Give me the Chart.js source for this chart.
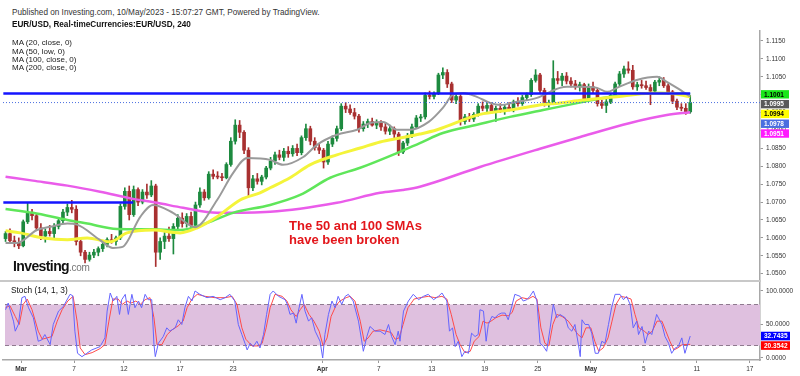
<!DOCTYPE html>
<html>
<head>
<meta charset="utf-8">
<title>EUR/USD 240</title>
<script src="https://cdn.jsdelivr.net/npm/chart.js@4.4.1/dist/chart.umd.min.js"></script>
<style>
  body { margin: 0; background: #fff; font-family: "Liberation Sans", Arial, sans-serif; }
  #wrap { position: relative; width: 800px; height: 376px; overflow: hidden; }
  canvas { position: absolute; left: 0; }
  #price { top: 30px; }
  #stoch { top: 282px; }
  .txt { position: absolute; white-space: nowrap; line-height: 1; }
  #sep { position: absolute; left: 0; top: 280px; width: 761px; height: 2px; background: #c8c8c8; }
</style>
</head>
<body>
<div id="wrap">
  <canvas id="price" width="800" height="251"></canvas>
  <canvas id="stoch" width="800" height="94"></canvas>
  <div id="sep"></div>

  <div class="txt" style="left:12px;top:9px;font-size:8.2px;color:#333">Published on Investing.com, 10/May/2023 - 15:07:27 GMT, Powered by TradingView.</div>
  <div class="txt" style="left:12px;top:21px;font-size:8.2px;font-weight:bold;color:#111">EUR/USD, Real-timeCurrencies:EUR/USD, 240</div>
  <div class="txt" style="left:12px;top:39px;font-size:8px;color:#222">MA (20, close, 0)</div>
  <div class="txt" style="left:12px;top:47.5px;font-size:8px;color:#222">MA (50, low, 0)</div>
  <div class="txt" style="left:12px;top:56px;font-size:8px;color:#222">MA (100, close, 0)</div>
  <div class="txt" style="left:12px;top:64px;font-size:8px;color:#222">MA (200, close, 0)</div>

  <div class="txt" style="left:289px;top:219px;font-size:13px;font-weight:bold;color:#e3161b">The 50 and 100 SMAs</div>
  <div class="txt" style="left:289px;top:233px;font-size:13px;font-weight:bold;color:#e3161b">have been broken</div>

  <div class="txt" style="left:13px;top:259px;font-size:14px;font-weight:bold;letter-spacing:-0.6px;color:#111">Investing<span style="font-size:10px;font-weight:normal;color:#777;letter-spacing:-0.3px">.com</span></div>

  <div class="txt" style="left:11px;top:286px;font-size:8.3px;color:#111">Stoch (14, 1, 3)</div>
</div>

<script>
// EUR/USD, kept as 8h candles (3 per trading day)
// index 0 = last session of Feb 27, index 155 = May 10 midday
const open = [
  1.0598,1.0612,1.0592,1.0585,1.0578,1.0645,1.0670,1.0662,1.0628,1.0605,
  1.0618,1.0612,1.0632,1.0648,1.0672,1.0685,1.0680,1.0590,1.0560,1.0540,
  1.0552,1.0560,1.0570,1.0582,1.0595,1.0590,1.0600,1.0688,1.0730,1.0665,
  1.0735,1.0700,1.0728,1.0720,1.0745,1.0560,1.0590,1.0605,1.0598,1.0632,
  1.0655,1.0640,1.0660,1.0635,1.0692,1.0728,1.0712,1.0778,1.0772,1.0770,
  1.0768,1.0805,1.0870,1.0915,1.0895,1.0845,1.0740,1.0765,1.0758,1.0770,
  1.0795,1.0815,1.0832,1.0825,1.0842,1.0835,1.0850,1.0838,1.0880,1.0905,
  1.0870,1.0852,1.0845,1.0812,1.0862,1.0878,1.0905,1.0968,1.0960,1.0950,
  1.0940,1.0905,1.0918,1.0925,1.0915,1.0922,1.0910,1.0898,1.0905,1.0890,
  1.0840,1.0865,1.0885,1.0910,1.0935,1.0938,1.0998,1.0995,1.1003,1.1055,
  1.1062,1.1030,1.0985,1.0995,1.0925,1.0938,1.0932,1.0945,1.0968,1.0962,
  1.0970,1.0955,1.0962,1.0958,1.0965,1.0960,1.0980,1.0975,1.0992,1.1000,
  1.1040,1.1055,1.1012,1.0975,1.0978,1.1045,1.1040,1.1052,1.1038,1.1030,
  1.1022,1.1028,1.0988,1.1022,1.1012,1.0975,1.0970,1.0980,1.0998,1.1030,
  1.1058,1.1072,1.1068,1.1022,1.1028,1.1025,1.1020,1.1010,1.1035,1.1040,
  1.1025,1.1008,1.0982,1.0965,1.0962,1.0952
];
const high = [
  1.0618,1.0625,1.0605,1.0600,1.0650,1.0697,1.0680,1.0668,1.0640,1.0625,
  1.0635,1.0640,1.0655,1.0680,1.0695,1.0705,1.0690,1.0598,1.0565,1.0560,
  1.0568,1.0575,1.0590,1.0600,1.0610,1.0605,1.0695,1.0740,1.0745,1.0745,
  1.0740,1.0735,1.0750,1.0760,1.0750,1.0600,1.0615,1.0630,1.0640,1.0665,
  1.0670,1.0668,1.0672,1.0700,1.0740,1.0735,1.0785,1.0790,1.0785,1.0780,
  1.0810,1.0880,1.0930,1.0928,1.0900,1.0852,1.0775,1.0780,1.0775,1.0800,
  1.0825,1.0840,1.0845,1.0850,1.0855,1.0858,1.0862,1.0885,1.0918,1.0912,
  1.0880,1.0862,1.0850,1.0870,1.0885,1.0912,1.0975,1.0978,1.0972,1.0962,
  1.0945,1.0925,1.0932,1.0935,1.0930,1.0928,1.0920,1.0915,1.0910,1.0895,
  1.0870,1.0892,1.0918,1.0942,1.0945,1.1005,1.1010,1.1008,1.1060,1.1075,
  1.1070,1.1035,1.1002,1.1000,1.0945,1.0948,1.0950,1.0975,1.0980,1.0978,
  1.0978,1.0968,1.0975,1.0972,1.0978,1.0985,1.0992,1.0998,1.1005,1.1045,
  1.1070,1.1060,1.1018,1.0985,1.1095,1.1065,1.1060,1.1062,1.1048,1.1040,
  1.1035,1.1032,1.1030,1.1035,1.1018,1.0985,1.0988,1.1002,1.1035,1.1065,
  1.1080,1.1092,1.1082,1.1035,1.1040,1.1038,1.1028,1.1040,1.1050,1.1048,
  1.1030,1.1012,1.0988,1.0975,1.0975,1.0998
];
const low = [
  1.0590,1.0585,1.0575,1.0570,1.0575,1.0640,1.0650,1.0620,1.0595,1.0588,
  1.0605,1.0600,1.0625,1.0640,1.0662,1.0670,1.0580,1.0550,1.0530,1.0535,
  1.0545,1.0550,1.0562,1.0575,1.0585,1.0580,1.0595,1.0680,1.0650,1.0660,
  1.0690,1.0695,1.0710,1.0715,1.0520,1.0540,1.0570,1.0590,1.0555,1.0620,
  1.0630,1.0630,1.0625,1.0630,1.0685,1.0705,1.0708,1.0765,1.0765,1.0760,
  1.0765,1.0800,1.0862,1.0880,1.0835,1.0715,1.0732,1.0750,1.0748,1.0765,
  1.0790,1.0805,1.0818,1.0815,1.0825,1.0828,1.0830,1.0832,1.0872,1.0860,
  1.0845,1.0835,1.0795,1.0805,1.0855,1.0870,1.0900,1.0950,1.0945,1.0932,
  1.0895,1.0898,1.0908,1.0912,1.0905,1.0900,1.0890,1.0888,1.0880,1.0830,
  1.0835,1.0858,1.0880,1.0905,1.0925,1.0932,1.0988,1.0988,1.1000,1.1045,
  1.1020,1.0978,1.0975,1.0915,1.0918,1.0925,1.0925,1.0940,1.0955,1.0950,
  1.0948,1.0925,1.0950,1.0945,1.0955,1.0952,1.0968,1.0970,1.0985,1.0995,
  1.1035,1.1005,1.0968,1.0965,1.0972,1.1030,1.1025,1.1030,1.1022,1.1015,
  1.1010,1.0978,1.0985,1.1005,1.0968,1.0962,1.0950,1.0975,1.0992,1.1025,
  1.1048,1.1060,1.1015,1.1012,1.1018,1.1015,1.0972,1.1005,1.1025,1.1020,
  1.1000,1.0975,1.0958,1.0955,1.0945,1.0948
];
const close = [
  1.0612,1.0592,1.0585,1.0578,1.0645,1.0670,1.0662,1.0628,1.0605,1.0618,
  1.0612,1.0632,1.0648,1.0672,1.0685,1.0680,1.0590,1.0560,1.0540,1.0552,
  1.0560,1.0570,1.0582,1.0595,1.0590,1.0600,1.0688,1.0730,1.0665,1.0735,
  1.0700,1.0728,1.0720,1.0745,1.0560,1.0590,1.0605,1.0598,1.0632,1.0655,
  1.0640,1.0660,1.0635,1.0692,1.0728,1.0712,1.0778,1.0772,1.0770,1.0768,
  1.0805,1.0870,1.0915,1.0895,1.0845,1.0740,1.0765,1.0758,1.0770,1.0795,
  1.0815,1.0832,1.0825,1.0842,1.0835,1.0850,1.0838,1.0880,1.0905,1.0870,
  1.0852,1.0845,1.0812,1.0862,1.0878,1.0905,1.0968,1.0960,1.0950,1.0940,
  1.0905,1.0918,1.0925,1.0915,1.0922,1.0910,1.0898,1.0905,1.0890,1.0840,
  1.0865,1.0885,1.0910,1.0935,1.0938,1.0998,1.0995,1.1003,1.1055,1.1062,
  1.1030,1.0985,1.0995,1.0925,1.0938,1.0932,1.0945,1.0968,1.0962,1.0970,
  1.0955,1.0962,1.0958,1.0965,1.0960,1.0980,1.0975,1.0992,1.1000,1.1040,
  1.1055,1.1012,1.0975,1.0978,1.1045,1.1040,1.1052,1.1038,1.1030,1.1022,
  1.1028,1.0988,1.1022,1.1012,1.0975,1.0970,1.0980,1.0998,1.1030,1.1058,
  1.1072,1.1068,1.1022,1.1028,1.1025,1.1020,1.1010,1.1035,1.1040,1.1025,
  1.1008,1.0982,1.0965,1.0962,1.0952,1.0978
];

// moving averages as [candle index, price]
const ma20 = [
  [0,1.0586],[2.6,1.0586],[7.1,1.0622],[10.1,1.0631],[14,1.0640],[16.2,1.0637],[21.4,1.0594],[24.3,1.0572],
  [26.5,1.0575],[30.5,1.0659],[33.4,1.0692],[37.9,1.0670],[42.9,1.0630],[47.9,1.0706],[51.5,1.0781],[54.7,1.0823],
  [59.9,1.0818],[62.8,1.0804],[67.4,1.0826],[70.5,1.0860],[75,1.0888],[79.6,1.0902],[82.5,1.0921],[85.5,1.0924],
  [88.6,1.0902],[91.6,1.0902],[95.8,1.0924],[99,1.0963],[101.3,1.1000],[103.6,1.1005],[106.7,1.0994],[109.7,1.0977],
  [112,1.0971],[115.8,1.0980],[120.3,1.0991],[123.3,1.1008],[125.5,1.1019],[127.1,1.1022],[130.1,1.1022],[133.9,1.1019],
  [136.2,1.1008],[138.4,1.1019],[142.9,1.1041],[147.5,1.1050],[149.7,1.1036],[152,1.1019],[155,1.0995]
];
const ma50 = [
  [0,1.0620],[3.3,1.0614],[8.5,1.0600],[14,1.0595],[18.5,1.0600],[23.7,1.0589],[27.5,1.0614],[33.4,1.0622],
  [39.5,1.0614],[43.4,1.0628],[47.9,1.0659],[53.1,1.0706],[57.6,1.0726],[59.9,1.0740],[64.4,1.0768],[68.9,1.0804],
  [75,1.0832],[80.3,1.0851],[84.8,1.0868],[89.3,1.0879],[93.8,1.0890],[97.7,1.0902],[107.4,1.0945],[114.2,1.0957],
  [120.3,1.0970],[125.5,1.0977],[130.8,1.0985],[138.4,1.0994],[145.9,1.1004],[150,1.1004],[155,1.0994]
];
const ma100 = [
  [0,1.0681],[6.2,1.0670],[14,1.0650],[18.5,1.0640],[25.2,1.0625],[32.7,1.0624],[39.5,1.0622],[45.6,1.0642],
  [51.5,1.0670],[59.9,1.0692],[66.7,1.0720],[73.5,1.0768],[80.3,1.0796],[88.6,1.0837],[93.8,1.0865],[99,1.0893],
  [106.7,1.0916],[114.2,1.0938],[121.7,1.0957],[130.8,1.0980],[136.9,1.0994],[142.1,1.1002],[148.2,1.1005],[155,1.1001]
];
const ma200 = [
  [0,1.0771],[6.2,1.0760],[14,1.0746],[21.4,1.0729],[28.9,1.0709],[34.3,1.0698],[40.2,1.0684],[47.9,1.0670],
  [59.9,1.0673],[75,1.0698],[84.8,1.0726],[89.9,1.0734],[93.8,1.0743],[107.4,1.0798],[121,1.0849],[130.1,1.0882],
  [141.4,1.0921],[149.7,1.0943],[155,1.0951]
];

// hand drawn blue levels: [price, from index, to index]
const levels = [[1.1003, -0.5, 155], [1.0699, -0.5, 28.9]];

// stochastic (14, 1, 3) as [candle index, value]
const stochK = [
  [0,72],[0.6,82],[1.8,55],[2.2,40],[2.9,50],[3.7,90],[4.4,92],[5.2,75],[6.3,60],[7.4,25],
  [8.2,27],[8.9,35],[10.1,20],[10.8,50],[12,70],[13.1,77],[14.6,95],[15.2,93],[15.7,40],[16.3,7],
  [17.3,2],[18.4,7],[19.5,12],[21.4,17],[22.5,30],[23,70],[23.7,97],[24.4,85],[25.2,92],[25.8,65],
  [26.3,87],[27.1,95],[27.8,65],[28.6,95],[29.3,75],[30.1,85],[30.8,75],[31.6,95],[32.3,87],[33.1,87],
  [33.6,20],[33.9,2],[34.6,22],[35.7,32],[36.5,45],[37.2,40],[38.4,45],[39.1,57],[39.9,50],[40.6,75],
  [41.4,92],[42.2,85],[42.9,100],[44,95],[45.6,90],[47,92],[48.6,87],[49.7,90],[50.8,95],[51.9,85],
  [52.7,50],[53.5,35],[54.2,22],[54.7,12],[55.4,22],[56.1,17],[56.9,25],[57.6,15],[58.4,35],[59.1,65],
  [59.9,95],[60.6,100],[61.8,92],[63.3,87],[63.8,80],[64.4,65],[65.2,67],[65.8,52],[66.3,70],[67.1,95],
  [67.8,70],[68.6,55],[69.3,60],[70.1,40],[71.2,25],[71.8,0],[72.3,35],[73.1,65],[73.9,85],[74.6,75],
  [75.3,92],[76.1,80],[76.9,92],[77.6,95],[78.7,85],[79.9,55],[80.6,27],[81,10],[81.8,32],[82.5,47],
  [83.7,40],[84.8,40],[85.9,35],[86.7,50],[87.4,32],[88.2,20],[88.9,40],[89.3,25],[90.1,70],[91.2,85],
  [92.3,95],[93.5,87],[94.6,92],[95.7,95],[96.9,87],[98,92],[98.8,97],[99.9,85],[100.5,40],[101.2,45],
  [101.8,17],[102.5,25],[103.3,2],[104,10],[104.8,7],[105.5,37],[106.3,32],[107,35],[107.4,72],[108.2,70],
  [108.8,25],[109.3,50],[110.1,62],[110.8,60],[111.6,65],[112.3,67],[113.1,67],[113.8,57],[114.6,77],[115.3,95],
  [116.5,92],[117.2,85],[118,87],[118.7,92],[119.5,100],[120.3,85],[121,22],[121.8,17],[122.5,10],[123.3,45],
  [124,80],[124.8,60],[125.5,65],[126.7,60],[127.4,45],[128.2,40],[128.9,50],[129.7,20],[130.1,2],[130.5,57],
  [131.2,50],[132,50],[132.7,37],[133.5,7],[134.2,7],[135,25],[135.7,22],[136.5,50],[137.2,75],[138,95],
  [139.1,95],[139.9,87],[140.6,92],[141.4,80],[142.1,45],[142.9,55],[143.3,35],[144.1,47],[144.8,22],[145.6,40],
  [146.3,35],[147.4,65],[148.6,50],[149.3,32],[150.1,22],[150.8,7],[151.6,15],[152.3,17],[153.1,30],[153.8,7],
  [155,32.7435]
];
const stochD = [
  [0,75],[1,78],[2.2,62],[3.1,50],[4,80],[4.9,88],[6,72],[7.4,40],[8.3,28],[9.4,30],
  [10.5,32],[11.7,55],[12.8,72],[14.1,85],[15.3,92],[16.2,55],[16.9,15],[18,5],[19.6,8],[21.4,14],
  [22.5,20],[23.4,55],[24.3,88],[25.5,88],[26.4,80],[27.5,85],[28.4,82],[29.5,85],[30.5,80],[31.6,87],
  [32.7,90],[33.6,60],[34.3,20],[35.4,20],[36.6,35],[37.7,42],[39.1,48],[40.2,55],[41.1,75],[42.2,88],
  [43.4,95],[45.2,92],[47.4,90],[49.7,90],[51.3,92],[52.4,80],[53.5,45],[54.4,28],[55.8,18],[57.2,18],
  [58.1,22],[59,45],[59.9,75],[61,95],[62.6,92],[63.7,85],[64.6,72],[65.8,62],[66.7,72],[67.6,80],
  [68.7,65],[69.8,55],[71,40],[71.9,18],[72.8,30],[73.7,62],[74.8,78],[75.7,85],[77.1,90],[78,92],
  [79.1,85],[80.3,55],[81.2,25],[82.1,30],[83.2,40],[84.8,42],[86.1,40],[87.3,38],[88.2,28],[89.1,30],
  [90,50],[91.1,75],[92.5,88],[93.8,90],[95.7,92],[97.2,90],[98.8,92],[99.9,88],[100.9,65],[102,35],
  [102.9,20],[104,8],[105.2,10],[106.1,25],[107.2,32],[108.1,55],[109,52],[109.9,55],[111,60],[112.4,64],
  [113.8,63],[114.7,68],[115.6,85],[116.9,90],[118.3,88],[119.4,92],[120.3,88],[121.2,45],[122.1,22],[123,18],
  [123.9,50],[124.8,65],[126,62],[127.4,55],[128.5,45],[129.6,35],[130.5,30],[131.4,45],[132.5,45],[133.4,25],
  [134.3,10],[135.3,15],[136.4,30],[137.3,55],[138.2,80],[139.3,92],[140.7,90],[141.6,88],[142.5,65],[143.4,45],
  [144.6,40],[145.5,35],[146.4,40],[147.5,55],[148.6,55],[149.5,40],[150.4,25],[151.3,12],[152.2,15],[153.2,20],
  [155,20.3542]
];

// axis ticks
const priceTicks = [1.0500,1.0550,1.0600,1.0650,1.0700,1.0750,1.0800,1.0850,1.0900,1.0950,1.1000,1.1050,1.1100,1.1150];
const stochTicks = [0, 50, 100];
const dateTickAt = [3.5, 15.5, 26.8, 39.5, 51.5, 71.7, 84.5, 96.5, 108.5, 120.5, 132.5, 144.5, 156.5, 168.5];
const dateTickText = ['Mar','7','12','17','23','Apr','7','13','19','25','May','5','11','17'];
const months = ['Mar', 'Apr', 'May'];

const xMin = -0.575, xMax = 170.8;

const fam = '"Liberation Sans", Arial, sans-serif';
Chart.defaults.font.family = fam;
Chart.defaults.animation = false;

function pts(arr) {
  return arr.map(p => ({ x: p[0], y: p[1] }));
}

const candleCol = close.map((c, i) => c >= open[i] ? '#1d8a3f' : '#a83030');
const lastClose = close[close.length - 1];

// coloured value boxes on the right axis
const tagPlugin = {
  id: 'valueTags',
  afterDraw(chart, args, opts) {
    const { ctx, chartArea } = chart;
    const sc = chart.scales.y;
    let prev = -1e9;
    ctx.save();
    ctx.font = 'bold 6.5px ' + fam;
    ctx.textBaseline = 'middle';
    opts.items.forEach(t => {
      const y = Math.max(sc.getPixelForValue(t.v), prev + opts.gap);
      prev = y;
      ctx.fillStyle = t.bg;
      ctx.fillRect(chartArea.right + 1, y - opts.h / 2, opts.w, opts.h);
      ctx.fillStyle = t.fg;
      ctx.fillText(t.v.toFixed(4), chartArea.right + 4, y + 0.5);
    });
    ctx.restore();
  }
};

// shaded 20-80 zone of the stochastic
const bandPlugin = {
  id: 'band',
  beforeDatasetsDraw(chart, args, opts) {
    const { ctx, chartArea: a } = chart;
    const y = chart.scales.y;
    const top = Math.round(y.getPixelForValue(opts.hi)) + 0.5;
    const bot = Math.round(y.getPixelForValue(opts.lo)) + 0.5;
    ctx.save();
    ctx.fillStyle = opts.fill;
    ctx.fillRect(a.left + 2, top, a.right - a.left - 2, bot - top);
    ctx.strokeStyle = opts.line;
    ctx.lineWidth = 1;
    ctx.setLineDash([4, 3]);
    [top, bot].forEach(p => {
      ctx.beginPath();
      ctx.moveTo(a.left + 2, p);
      ctx.lineTo(a.right, p);
      ctx.stroke();
    });
    ctx.restore();
  }
};

const maLine = (data, color, width, order) => ({
  type: 'line', data: pts(data), borderColor: color, borderWidth: width,
  pointRadius: 0, cubicInterpolationMode: 'monotone', order: order
});

new Chart(document.getElementById('price'), {
  type: 'bar',
  data: {
    datasets: [
      {
        type: 'line',
        data: [{ x: xMin, y: lastClose }, { x: xMax, y: lastClose }],
        borderColor: '#4a6ee0', borderWidth: 1, borderDash: [1, 2], pointRadius: 0, order: 0
      },
      ...levels.map(lv => ({
        type: 'line',
        data: [{ x: lv[1], y: lv[0] }, { x: lv[2], y: lv[0] }],
        borderColor: '#1414ff', borderWidth: 2.5, pointRadius: 0, order: 1
      })),
      maLine(ma20, '#9a9a9a', 2, 2),
      maLine(ma50, '#f4f43a', 3, 3),
      maLine(ma100, '#5fe65a', 2.5, 4),
      maLine(ma200, '#ea5cea', 2.5, 5),
      {
        label: 'wick',
        data: open.map((o, i) => ({ x: i, y: [low[i], high[i]] })),
        backgroundColor: candleCol, barThickness: 1, grouped: false, order: 21
      },
      {
        label: 'body',
        data: open.map((o, i) => ({ x: i, y: [o, close[i]] })),
        backgroundColor: candleCol, barThickness: 3, minBarLength: 1, grouped: false, order: 20
      }
    ]
  },
  options: {
    responsive: false,
    events: [],
    layout: { padding: { left: 3, right: 0, top: 0, bottom: 0 } },
    plugins: {
      legend: { display: false },
      tooltip: { enabled: false },
      valueTags: {
        gap: 9.8, w: 28, h: 8.4,
        items: [
          { v: ma100[ma100.length - 1][1], bg: '#19e619', fg: '#000' },
          { v: ma20[ma20.length - 1][1], bg: '#5a5a5a', fg: '#fff' },
          { v: ma50[ma50.length - 1][1], bg: '#ffff00', fg: '#000' },
          { v: lastClose, bg: '#4a6ee0', fg: '#fff' },
          { v: ma200[ma200.length - 1][1], bg: '#ff19ff', fg: '#fff' }
        ]
      }
    },
    scales: {
      x: { type: 'linear', min: xMin, max: xMax, offset: false, display: false },
      y: {
        position: 'right', min: 1.04796, max: 1.11807, beginAtZero: false,
        afterBuildTicks: s => { s.ticks = priceTicks.map(v => ({ value: v })); },
        afterFit: s => { s.width = 40; s.paddingTop = 0; s.paddingBottom = 0; },
        ticks: { callback: v => v.toFixed(4), font: { size: 6.5 }, color: '#333', padding: 3 },
        grid: { drawOnChartArea: false, tickLength: 3, color: '#999' },
        border: { color: '#a8a8a8', width: 1.5 }
      }
    }
  },
  plugins: [tagPlugin]
});

new Chart(document.getElementById('stoch'), {
  type: 'line',
  data: {
    datasets: [
      { data: pts(stochD), borderColor: '#ff4a4a', borderWidth: 1, pointRadius: 0, order: 1 },
      { data: pts(stochK), borderColor: '#6464ff', borderWidth: 1, pointRadius: 0, order: 0 }
    ]
  },
  options: {
    responsive: false,
    events: [],
    layout: { padding: { left: 3, right: 0, top: 0, bottom: 0 } },
    plugins: {
      legend: { display: false },
      tooltip: { enabled: false },
      band: { lo: 20, hi: 80, fill: '#dfc0df', line: '#8f7a8f' },
      valueTags: {
        gap: 9.5, w: 29, h: 8.6,
        items: [
          { v: stochK[stochK.length - 1][1], bg: '#0000ff', fg: '#fff' },
          { v: stochD[stochD.length - 1][1], bg: '#ff0000', fg: '#fff' }
        ]
      }
    },
    scales: {
      x: {
        type: 'linear', min: xMin, max: xMax, offset: false,
        afterBuildTicks: s => { s.ticks = dateTickAt.map(v => ({ value: v })); },
        afterFit: s => { s.height = 16; s.paddingLeft = 0; s.paddingRight = 0; },
        ticks: {
          autoSkip: false, maxRotation: 0, padding: 2, color: '#333',
          callback: (v, i) => dateTickText[i],
          font: c => ({ size: 6.5, weight: months.includes(dateTickText[c.index]) ? 'bold' : 'normal' })
        },
        grid: { drawOnChartArea: false, tickLength: 3, color: '#999' },
        border: { color: '#a8a8a8', width: 1.5 }
      },
      y: {
        position: 'right', min: -3, max: 113.4,
        afterBuildTicks: s => { s.ticks = stochTicks.map(v => ({ value: v })); },
        afterFit: s => { s.width = 40; s.paddingTop = 0; s.paddingBottom = 0; },
        ticks: { callback: v => v.toFixed(4), font: { size: 6.5 }, color: '#333', padding: 3 },
        grid: { drawOnChartArea: false, tickLength: 3, color: '#999' },
        border: { color: '#a8a8a8', width: 1.5 }
      }
    }
  },
  plugins: [bandPlugin, tagPlugin]
});
</script>
</body>
</html>
